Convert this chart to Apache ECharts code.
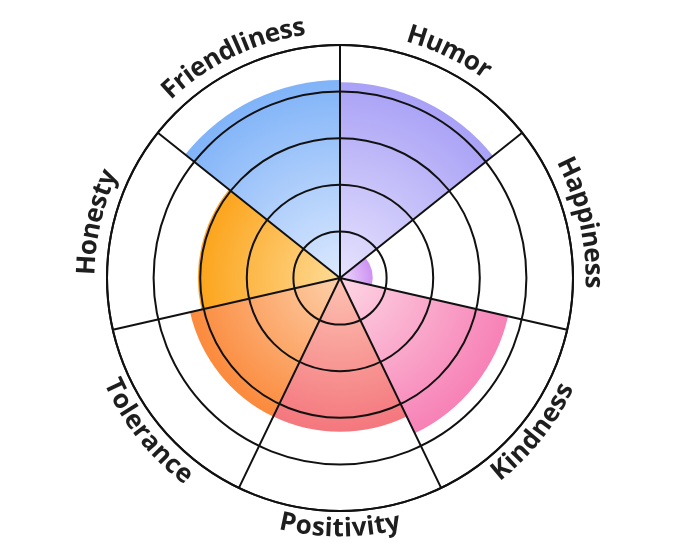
<!DOCTYPE html>
<html>
<head>
<meta charset="utf-8">
<script src="https://cdn.jsdelivr.net/npm/echarts@6/dist/echarts.min.js"></script>
<style>
  html, body { margin: 0; padding: 0; background: #fff; }
  #main { width: 680px; height: 557px; }
</style>
</head>
<body>
<div id="main"></div>
<script>
// data
var categories = ['Humor', 'Happiness', 'Kindness', 'Positivity', 'Tolerance', 'Honesty', 'Friendliness'];
var values = [84, 14, 74, 66, 66, 61, 85];
var innerColors = ['#e6e3fd', '#efdcfc', '#fdd6e4', '#fdc2b2', '#fdd0aa', '#fedb96', '#dce9fe'];
var outerColors = ['#a9a1f6', '#cd92f2', '#f781b6', '#f4777e', '#fb8a3c', '#fca41b', '#80b3f8'];
var radiusMax = 100;

// layout
var CX = 340, CY = 278, R = 233;
var LINE = '#111';
var FONT = 'bold 26px "Open Sans"';

var measureCtx = document.createElement('canvas').getContext('2d');
measureCtx.font = FONT;
function charWidth(ch) { return measureCtx.measureText(ch).width; }

var myChart = echarts.init(document.getElementById('main'));

var barData = values.map(function (v, i) {
    return {
        value: v,
        itemStyle: {
            color: new echarts.graphic.RadialGradient(CX, CY, R * v / radiusMax, [
                { offset: 0, color: innerColors[i] },
                { offset: 1, color: outerColors[i] }
            ], true)
        }
    };
});

// curved labels, one letter at a time along the outer ring
function renderLabel(params, api) {
    var cs = params.coordSys;
    var p = api.coord([api.value(0), api.value(1)]);
    var th = Math.atan2(cs.cy - p[1], p[0] - cs.cx);
    var text = categories[params.dataIndex];
    var widths = text.split('').map(charWidth);
    var total = widths.reduce(function (a, b) { return a + b; }, 0);
    var bottom = Math.sin(th) < -0.1;
    var r = bottom ? cs.r + 18 : cs.r + 20;
    var children = [];
    var acc = 0;
    for (var k = 0; k < text.length; k++) {
        var off = (acc + widths[k] / 2 - total / 2) / r;
        var a = bottom ? th + off : th - off;
        acc += widths[k];
        children.push({
            type: 'text',
            x: cs.cx + r * Math.cos(a),
            y: cs.cy - r * Math.sin(a),
            rotation: bottom ? a + Math.PI / 2 : a - Math.PI / 2,
            style: {
                text: text[k],
                font: FONT,
                fill: '#1e1e1e',
                align: 'center',
                verticalAlign: 'middle'
            }
        });
    }
    return { type: 'group', children: children };
}

var option = {
    backgroundColor: '#fff',
    animation: false,
    polar: {
        center: [CX, CY],
        radius: R
    },
    angleAxis: {
        type: 'category',
        data: categories,
        startAngle: 90,
        clockwise: true,
        boundaryGap: true,
        z: 5,
        axisLine: { show: true, lineStyle: { color: LINE, width: 2 } },
        axisTick: { show: false },
        axisLabel: { show: false },
        splitLine: { show: true, lineStyle: { color: LINE, width: 2 } }
    },
    radiusAxis: {
        type: 'value',
        min: 0,
        max: radiusMax,
        interval: 20,
        z: 5,
        axisLine: { show: false },
        axisTick: { show: false },
        axisLabel: { show: false },
        splitLine: { show: true, lineStyle: { color: LINE, width: 2 } }
    },
    series: [{
        type: 'bar',
        coordinateSystem: 'polar',
        barCategoryGap: '0%',
        z: 2,
        data: barData
    }, {
        type: 'custom',
        coordinateSystem: 'polar',
        silent: true,
        z: 10,
        encode: { radius: 0, angle: 1 },
        data: categories.map(function (c, i) { return [radiusMax, i]; }),
        renderItem: renderLabel
    }]
};

myChart.setOption(option);
</script>
</body>
</html>
